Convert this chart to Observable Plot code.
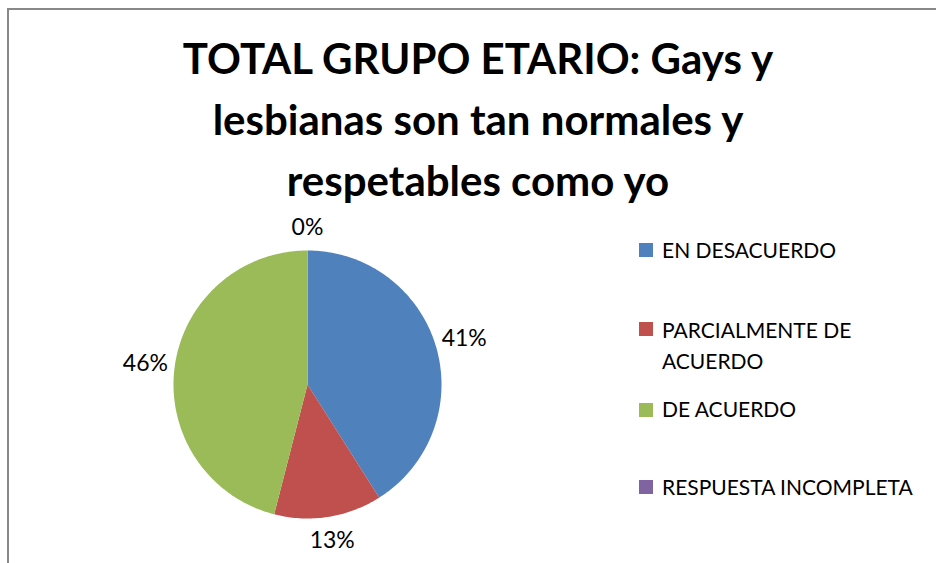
<!DOCTYPE html>
<html><head><meta charset="utf-8">
<script src="https://cdn.jsdelivr.net/npm/d3@7"></script>
<script src="https://cdn.jsdelivr.net/npm/@observablehq/plot@0.6"></script>
<style>
body{margin:0;background:#fff;}
#wrap{position:relative;width:936px;height:563px;overflow:hidden;font-family:Lato,"Noto Sans",sans-serif;color:#000;}
#frame{position:absolute;left:7px;top:8px;width:1000px;height:700px;border-left:2px solid #888;border-top:2px solid #888;}
#chart{position:absolute;left:0;top:0;}
#title{position:absolute;left:0;width:956px;top:28px;text-align:center;font-weight:bold;font-size:42px;line-height:61px;}
.lg{position:absolute;left:662px;font-size:21px;line-height:31px;white-space:nowrap;}
.sw{position:absolute;left:639px;width:14px;height:14px;}
</style></head>
<body>
<div id="wrap">
  <div id="frame"></div>
  <div id="chart"></div>
  <div id="title"></div>
</div>
<script>
const categories = ["EN DESACUERDO", "PARCIALMENTE DE ACUERDO", "DE ACUERDO", "RESPUESTA INCOMPLETA"];
const legendLines = [["EN DESACUERDO"], ["PARCIALMENTE DE", "ACUERDO"], ["DE ACUERDO"], ["RESPUESTA INCOMPLETA"]];
const values = [41, 13, 46, 0];
const colors = ["#4F81BD", "#C0504D", "#9BBB59", "#8064A2"];
const titleLines = ["TOTAL GRUPO ETARIO: Gays y", "lesbianas son tan normales y", "respetables como yo"];

const arcs = d3.pie().sort(null).value(d => d.value)(categories.map((c, i) => ({cat: c, value: values[i]})));

// slice outlines in unit coordinates (angle measured clockwise from top)
const slicePts = [];
arcs.forEach(a => {
  slicePts.push({cat: a.data.cat, x: 0, y: 0});
  const n = Math.max(2, Math.ceil((a.endAngle - a.startAngle) / (Math.PI / 180)));
  for (let k = 0; k <= n; k++) {
    const t = a.startAngle + (a.endAngle - a.startAngle) * k / n;
    slicePts.push({cat: a.data.cat, x: Math.sin(t), y: Math.cos(t)});
  }
});

const labels = arcs.map(a => {
  const m = (a.startAngle + a.endAngle) / 2;
  const r = 1.17 + 0.05 * Math.abs(Math.sin(m));
  return {cat: a.data.cat, text: a.data.value + "%", x: r * Math.sin(m), y: r * Math.cos(m)};
});

const plot = Plot.plot({
  width: 936, height: 563, margin: 0,
  x: {domain: [-1, 1], range: [173, 441], axis: null},
  y: {domain: [-1, 1], range: [518, 250], axis: null},
  color: {domain: categories, range: colors},
  style: {background: "transparent", fontFamily: "Lato, 'Noto Sans', sans-serif"},
  marks: [
    Plot.line(slicePts, {x: "x", y: "y", z: "cat", fill: "cat", stroke: null, curve: "linear-closed"}),
    Plot.text(labels, {x: "x", y: "y", text: "text", fontSize: 23, fill: "#000"})
  ]
});
document.getElementById("chart").appendChild(plot);

document.getElementById("title").innerHTML = titleLines.join("<br>");

const baselines = [258, 338, 417, 495];
const swTops = [243, 322, 403, 480];
const wrap = document.getElementById("wrap");
legendLines.forEach((lines, i) => {
  const sw = document.createElement("div");
  sw.className = "sw";
  sw.style.top = swTops[i] + "px";
  sw.style.background = colors[i];
  wrap.appendChild(sw);
  const t = document.createElement("div");
  t.className = "lg";
  t.style.top = (baselines[i] - 23.6) + "px";
  t.innerHTML = lines.join("<br>");
  wrap.appendChild(t);
});
</script>
</body></html>
